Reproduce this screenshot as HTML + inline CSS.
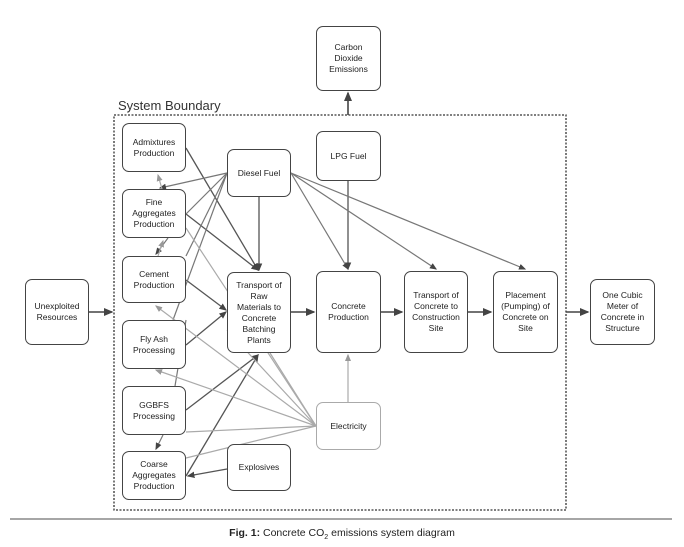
<!DOCTYPE html>
<html><head><style>
body{margin:0;background:#fff;width:684px;height:547px;overflow:hidden;position:relative;font-family:"Liberation Sans",sans-serif}
.b{position:absolute;border:1.3px solid #444;border-radius:7px;background:#fff;display:flex;align-items:center;justify-content:center;text-align:center;font-size:8.5px;line-height:11px;color:#222;box-sizing:border-box}
</style></head><body>
<svg width="684" height="547" style="position:absolute;left:0;top:0">
<defs>
<marker id="a" markerWidth="6" markerHeight="6" refX="5" refY="3" orient="auto"><path d="M0,0.5 L6,3 L0,5.5z" fill="#444"/></marker>
<marker id="g" markerWidth="6" markerHeight="6" refX="5" refY="3" orient="auto"><path d="M0,0.5 L6,3 L0,5.5z" fill="#999"/></marker>
</defs>
<rect x="114" y="115" width="452" height="395" fill="none" stroke="#333" stroke-width="1.3" stroke-dasharray="2,1.5"/>
<text x="118" y="110" font-size="13" fill="#333" font-family="Liberation Sans">System Boundary</text>
<g stroke="#444" stroke-width="1.6" fill="none">
<line x1="348" y1="115" x2="348" y2="93" marker-end="url(#a)"/>
<line x1="89" y1="312" x2="112" y2="312" marker-end="url(#a)"/>
<line x1="566" y1="312" x2="588" y2="312" marker-end="url(#a)"/>
<line x1="291" y1="312" x2="314" y2="312" marker-end="url(#a)"/>
<line x1="381" y1="312" x2="402" y2="312" marker-end="url(#a)"/>
<line x1="468" y1="312" x2="491" y2="312" marker-end="url(#a)"/>
</g>
<g stroke="#555" stroke-width="1.3" fill="none">
<line x1="186" y1="148" x2="258" y2="270" marker-end="url(#a)"/>
<line x1="186" y1="214" x2="258" y2="270" marker-end="url(#a)"/>
<line x1="186" y1="280" x2="226" y2="310" marker-end="url(#a)"/>
<line x1="186" y1="345" x2="226" y2="312" marker-end="url(#a)"/>
<line x1="186" y1="410" x2="258" y2="355" marker-end="url(#a)"/>
<line x1="186" y1="476" x2="258" y2="355" marker-end="url(#a)"/>
<line x1="227" y1="469" x2="188" y2="476" marker-end="url(#a)"/>
<line x1="259" y1="197" x2="259" y2="270" marker-end="url(#a)"/>
<line x1="348" y1="181" x2="348" y2="269" marker-end="url(#a)"/>
</g>
<g stroke="#777" stroke-width="1.2" fill="none">
<line x1="227" y1="173" x2="160" y2="188" marker-end="url(#a)"/>
<line x1="227" y1="173" x2="186" y2="214"/>
<line x1="227" y1="173" x2="186" y2="256"/>
<line x1="227" y1="173" x2="173" y2="320"/>
<line x1="291" y1="173" x2="348" y2="269" marker-end="url(#a)"/>
<line x1="291" y1="173" x2="436" y2="269" marker-end="url(#a)"/>
<line x1="291" y1="173" x2="525" y2="269" marker-end="url(#a)"/>
<line x1="168" y1="238" x2="156" y2="254" marker-end="url(#a)"/>
<line x1="175" y1="386" x2="186" y2="320"/>
<line x1="163" y1="435" x2="156" y2="449" marker-end="url(#a)"/>
</g>
<g stroke="#aaa" stroke-width="1.2" fill="none">
<line x1="162" y1="189" x2="158" y2="175" marker-end="url(#g)"/>
<line x1="158" y1="256" x2="163" y2="241" marker-end="url(#g)"/>
<line x1="186" y1="228" x2="316" y2="426"/>
<line x1="316" y1="426" x2="156" y2="306" marker-end="url(#g)"/>
<line x1="316" y1="426" x2="156" y2="370" marker-end="url(#g)"/>
<line x1="316" y1="426" x2="186" y2="432"/>
<line x1="316" y1="426" x2="186" y2="458"/>
<line x1="316" y1="426" x2="270" y2="353"/>
<line x1="316" y1="426" x2="227" y2="330"/>
<line x1="348" y1="402" x2="348" y2="355" marker-end="url(#g)"/>
</g>
<line x1="10" y1="519" x2="672" y2="519" stroke="#888" stroke-width="1.5"/>
<text x="342" y="536" font-size="10.5" text-anchor="middle" fill="#222" font-family="Liberation Sans"><tspan font-weight="bold">Fig. 1:</tspan> Concrete CO<tspan font-size="7" dy="3">2</tspan><tspan dy="-3"> emissions system diagram</tspan></text>
</svg>
<div class="b" style="left:316px;top:26px;width:65px;height:65px">Carbon<br>Dioxide<br>Emissions</div>
<div class="b" style="left:122px;top:123px;width:64px;height:49px">Admixtures<br>Production</div>
<div class="b" style="left:227px;top:149px;width:64px;height:48px">Diesel Fuel</div>
<div class="b" style="left:316px;top:131px;width:65px;height:50px">LPG Fuel</div>
<div class="b" style="left:122px;top:189px;width:64px;height:49px">Fine<br>Aggregates<br>Production</div>
<div class="b" style="left:122px;top:256px;width:64px;height:47px">Cement<br>Production</div>
<div class="b" style="left:122px;top:320px;width:64px;height:49px">Fly Ash<br>Processing</div>
<div class="b" style="left:122px;top:386px;width:64px;height:49px">GGBFS<br>Processing</div>
<div class="b" style="left:122px;top:451px;width:64px;height:49px">Coarse<br>Aggregates<br>Production</div>
<div class="b" style="left:227px;top:444px;width:64px;height:47px">Explosives</div>
<div class="b" style="left:227px;top:272px;width:64px;height:81px">Transport of<br>Raw<br>Materials to<br>Concrete<br>Batching<br>Plants</div>
<div class="b" style="left:25px;top:279px;width:64px;height:66px">Unexploited<br>Resources</div>
<div class="b" style="left:316px;top:271px;width:65px;height:82px">Concrete<br>Production</div>
<div class="b" style="left:404px;top:271px;width:64px;height:82px">Transport of<br>Concrete to<br>Construction<br>Site</div>
<div class="b" style="left:493px;top:271px;width:65px;height:82px">Placement<br>(Pumping) of<br>Concrete on<br>Site</div>
<div class="b" style="left:590px;top:279px;width:65px;height:66px">One Cubic<br>Meter of<br>Concrete in<br>Structure</div>
<div class="b" style="left:316px;top:402px;width:65px;height:48px;border-color:#aaa">Electricity</div>
</body></html>
